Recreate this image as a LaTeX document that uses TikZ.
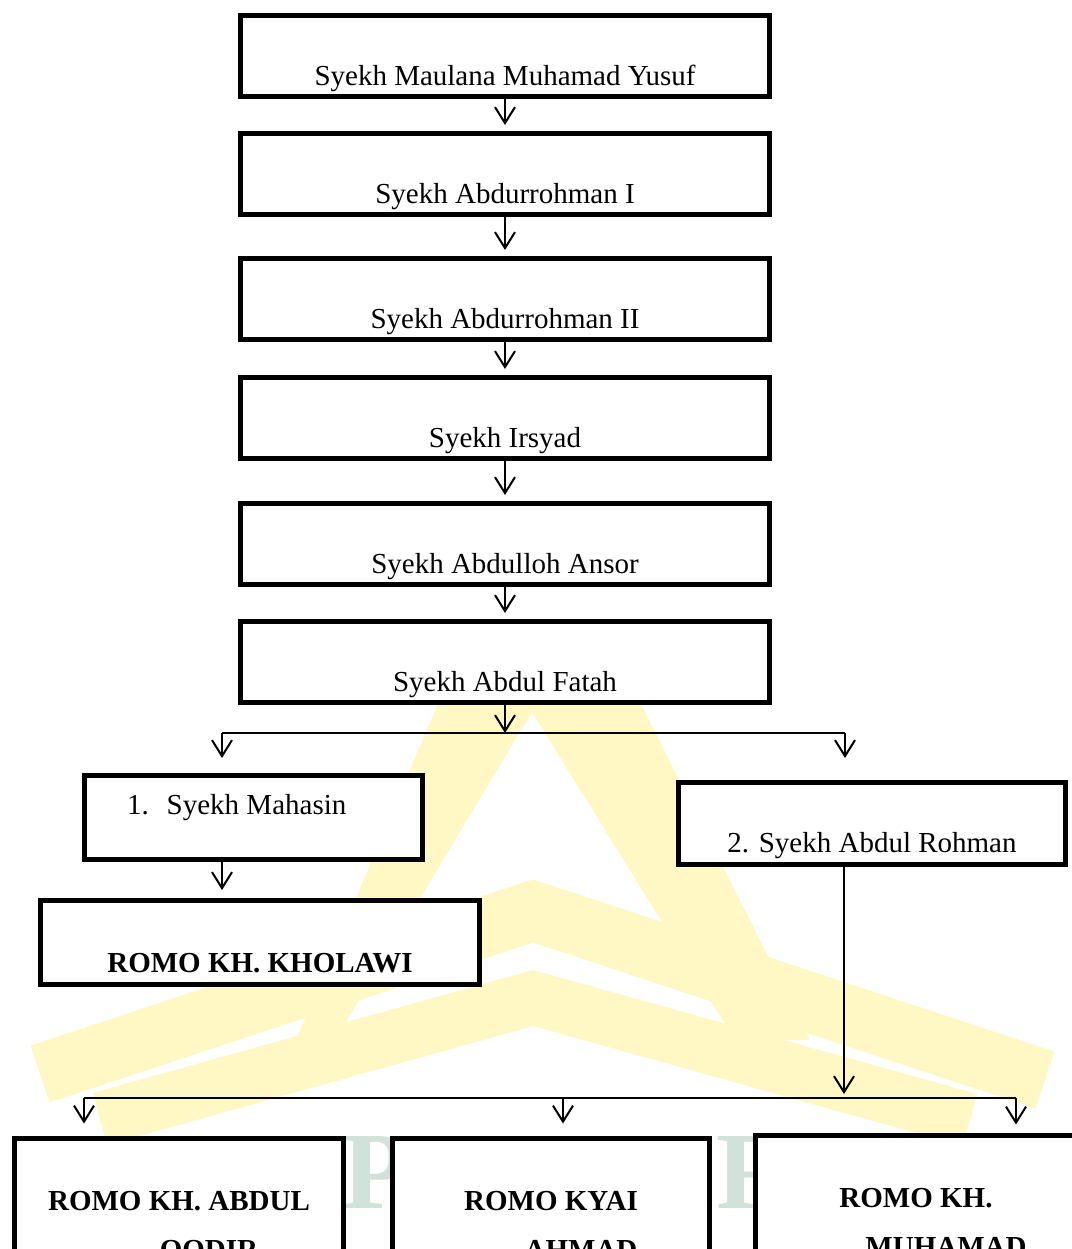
\documentclass[tikz,border=0pt]{standalone}
\usepackage{fontspec}
\setmainfont{Liberation Serif}
\usepackage{tikz}
\usetikzlibrary{arrows.meta, positioning}
\definecolor{wmyellow}{RGB}{255,248,196}
\definecolor{wmgreen}{RGB}{208,226,217}
\tikzset{
  box/.style={
    rectangle, draw, line width=2.5pt, fill=white, inner sep=0pt,
    font=\fontsize{14.5pt}{17.4pt}\selectfont
  },
  sybox/.style={box, minimum width=264.5pt, minimum height=40.5pt,
    text height=35pt, text depth=5.5pt},
  romo/.style={box, anchor=north, text height=36.25pt, text depth=70pt,
    font=\fontsize{14.5pt}{17.4pt}\selectfont\bfseries},
  arr/.style={-{Straight Barb[length=8pt,width=10pt]}, line width=1pt},
  ln/.style={line width=1pt},
  wmark/.style={text=wmgreen, inner sep=0pt, anchor=base west,
    font=\fontsize{55pt}{60pt}\selectfont\bfseries}
}

\begin{document}
\begin{tikzpicture}[x=0.5pt, y=-0.5pt]

  \useasboundingbox (0,0) rectangle (1072,1249);
  \clip (0,0) rectangle (1072,1249);

  %% watermark
  \fill[wmyellow, even odd rule] (447,682) -- (630,682) -- (810,1040) -- (296,1040) -- cycle
       (532,712) -- (335,1040) -- (735,1040) -- cycle;
  \draw[wmyellow, line width=30pt] (40,1074) -- (533,911) -- (1045,1080);
  \draw[wmyellow, line width=27pt] (100,1119) -- (533,998) -- (970,1120);
  \node[wmark] (wmp) at (342,1208) {P};
  \node[wmark] (wmr) at (716,1208) {R};

  %% garis silsilah
  \node[sybox] (b1) at (505,56) {Syekh Maulana Muhamad Yusuf};
  \node[sybox, below=16pt of b1]   (b2) {Syekh Abdurrohman I};
  \node[sybox, below=19.5pt of b2] (b3) {Syekh Abdurrohman II};
  \node[sybox, below=16.5pt of b3] (b4) {Syekh Irsyad};
  \node[sybox, below=20pt of b4]   (b5) {Syekh Abdulloh Ansor};
  \node[sybox, below=16pt of b5]   (b6) {Syekh Abdul Fatah};

  %% dua cabang
  \node[box, minimum width=169pt, text width=126.5pt, align=flush left,
        inner xsep=21.25pt, text height=19.25pt, text depth=22.75pt]
        (m1) at (253.5,817.5) {1.\hspace{9pt}Syekh Mahasin};
  \node[box, minimum width=193.5pt, text height=34.75pt, text depth=6.25pt]
        (m2) at (872,823.5) {2. Syekh Abdul Rohman};
  \node[box, minimum width=219.5pt, text height=35.75pt, text depth=6.25pt,
        font=\fontsize{14.5pt}{17.4pt}\selectfont\bfseries]
        (k1) at (260,942.5) {ROMO KH. KHOLAWI};

  %% generasi bawah
  \node[romo, minimum width=164.5pt] (r1) at (179,1135.5)
       {\begin{tabular}[t]{@{}c@{}}ROMO KH. ABDUL\\[7pt]\hspace*{30pt}QODIR\end{tabular}};
  \node[romo, minimum width=158.5pt] (r2) at (551,1135.5)
       {\begin{tabular}[t]{@{}c@{}}ROMO KYAI\\[7pt]\hspace*{30pt}AHMAD\end{tabular}};
  \node[romo, minimum width=160.5pt] (r3) at (916,1132.5)
       {\begin{tabular}[t]{@{}c@{}}ROMO KH.\\[7pt]\hspace*{30pt}MUHAMAD\end{tabular}};

  \coordinate (sp1)  at (505,733);
  \coordinate (sp1l) at (222,733);
  \coordinate (sp1r) at (845,733);
  \coordinate (sp2)  at (844,1098);
  \coordinate (sp2l) at (84,1098);
  \coordinate (sp2m) at (563,1098);
  \coordinate (sp2r) at (1016,1098);

  \foreach \a/\b in {b1/b2, b2/b3, b3/b4, b4/b5, b5/b6}
    \draw[arr, shorten >=3pt] (\a) -- (\b);
  \draw[arr] (b6) -- (sp1);
  \draw[ln] (sp1l) -- (sp1r);
  \draw[arr, shorten >=7.5pt] (sp1l) -- (sp1l |- m1.north);
  \draw[arr, shorten >=11pt] (sp1r) -- (sp1r |- m2.north);
  \draw[arr, shorten >=4pt] (sp1l |- m1.south) -- (sp1l |- k1.north);
  \draw[arr, shorten >=2pt] (sp2 |- m2.south) -- (sp2);
  \draw[ln] (sp2l) -- (sp2r);
  \draw[arr, shorten >=6pt] (sp2l) -- (sp2l |- r1.north);
  \draw[arr, shorten >=6pt] (sp2m) -- (sp2m |- r2.north);
  \draw[arr, shorten >=4pt] (sp2r) -- (sp2r |- r3.north);

\end{tikzpicture}
\end{document}
